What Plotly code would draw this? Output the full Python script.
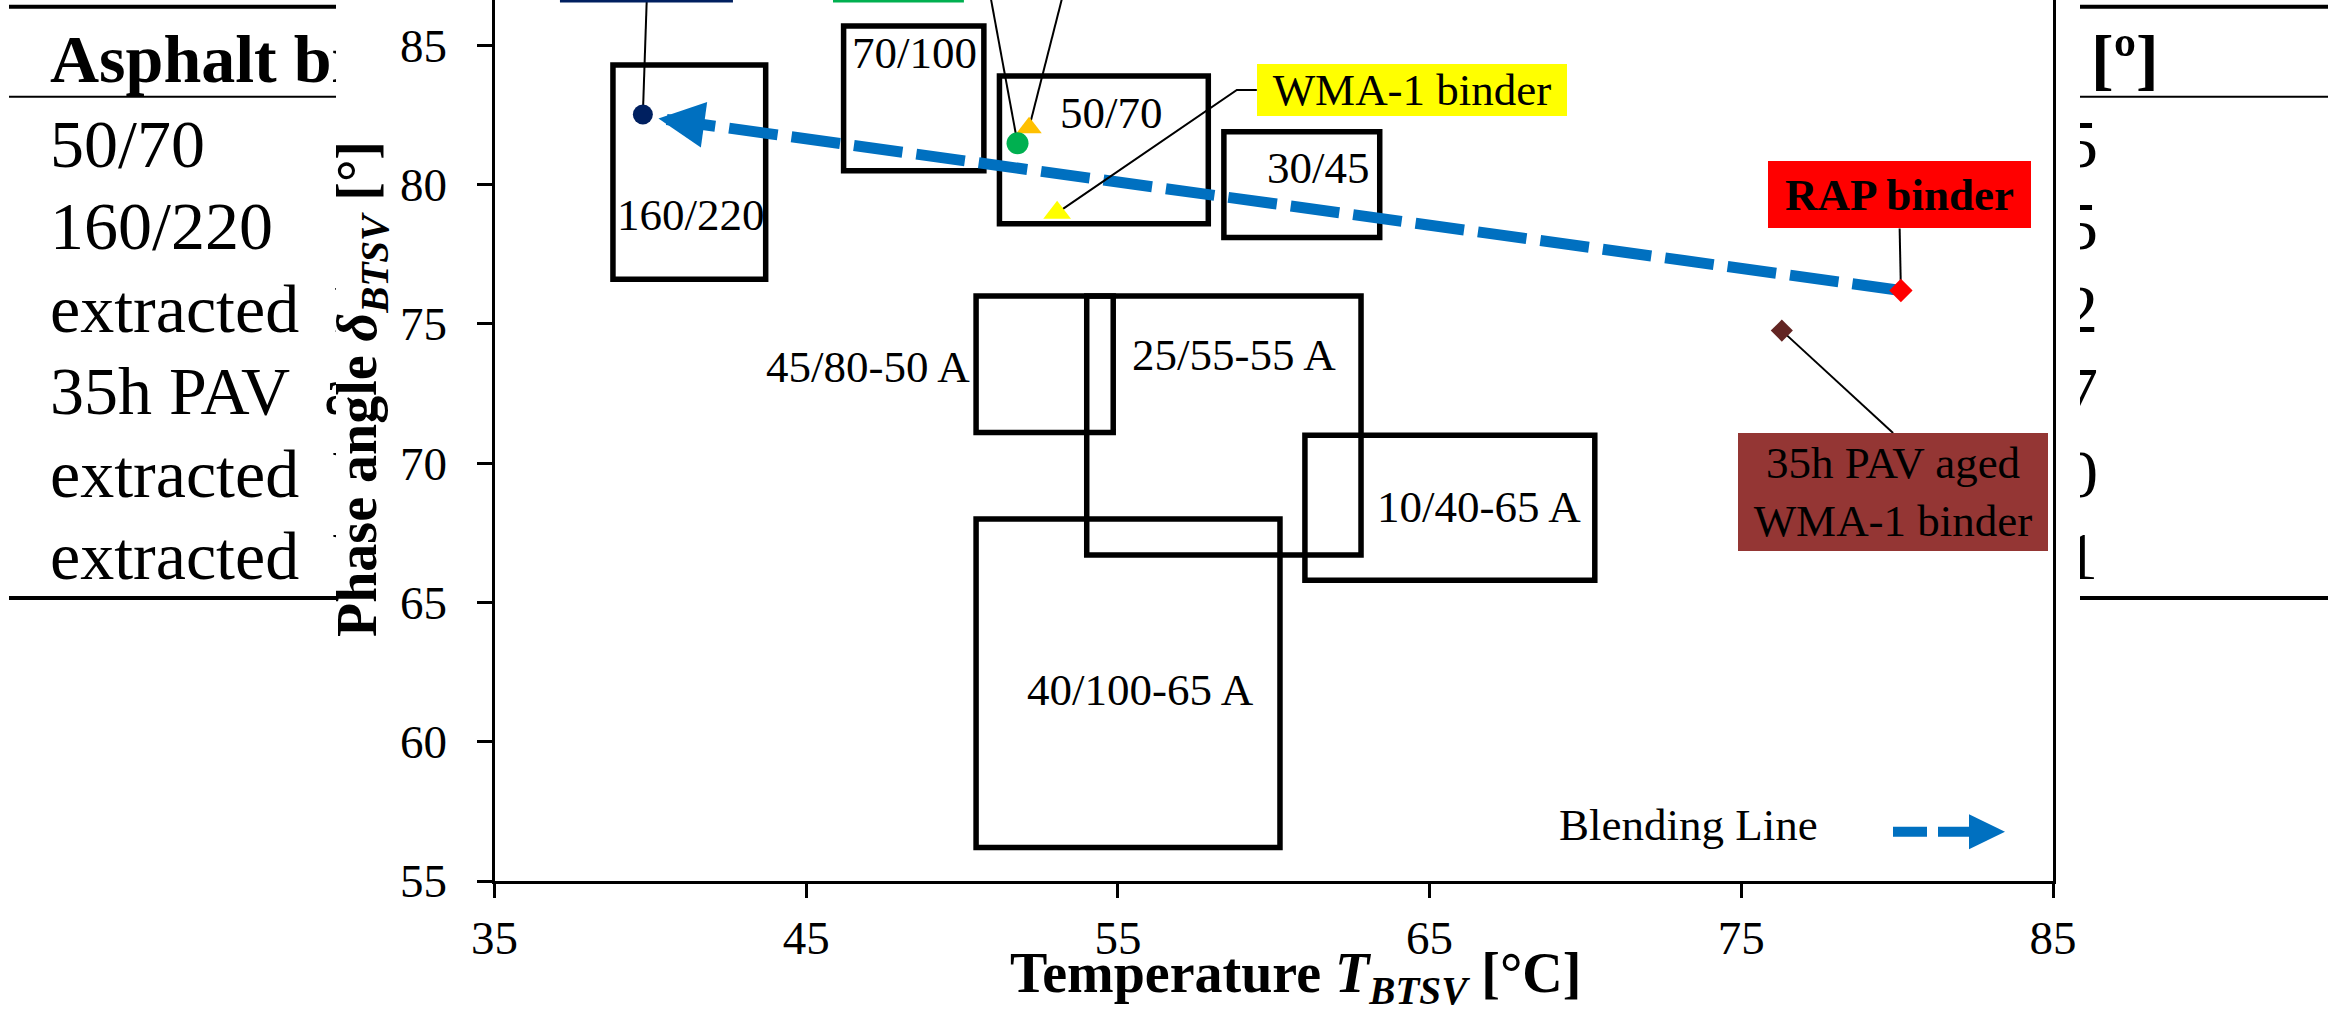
import math
import plotly.graph_objects as go

W, H = 2328, 1011
SERIF = "Liberation Serif"

# ----------------------------- data ---------------------------------
x_range = [35, 85]
y_range = [55, 86.63]
x_tickvals = [35, 45, 55, 65, 75, 85]
y_tickvals = [55, 60, 65, 70, 75, 80, 85]

# penetration-grade / PmB regions
box_labels = ["160/220", "70/100", "50/70", "30/45",
              "45/80-50 A", "25/55-55 A", "10/40-65 A", "40/100-65 A"]
box_x0 = [38.8, 46.2, 51.2, 58.4, 50.45, 54.0, 61.0, 50.45]
box_x1 = [43.7, 50.7, 57.9, 63.4, 54.85, 62.8, 70.3, 60.2]
box_y0 = [76.6, 80.5, 78.6, 78.1, 71.1, 66.7, 65.8, 56.2]
box_y1 = [84.3, 85.7, 83.9, 81.9, 76.0, 76.0, 71.0, 68.0]
box_label_x = [41.3, 48.46, 54.81, 61.44, 46.98, 58.72, 66.58, 55.73]
box_label_y = [78.9, 84.73, 82.59, 80.6, 73.47, 73.89, 68.44, 61.86]

# binders
pt_names = ["160/220 binder", "WMA-2 binder", "50/70 binder", "WMA-1 binder",
            "RAP binder", "35h PAV aged WMA-1 binder"]
pt_x = [39.76, 52.15, 51.78, 53.05, 80.12, 76.30]
pt_y = [82.52, 82.04, 81.49, 78.99, 76.20, 74.76]
pt_color = ["#002060", "#FFC000", "#00B050", "#FFFF00", "#FF0000", "#632523"]
pt_symbol = ["circle", "triangle-up", "circle", "triangle-up", "diamond", "diamond"]
pt_size = [20, 22, 22, 24, 18, 17]

# callouts whose boxes lie above the visible area (only leader + bottom edge visible)
offtop_idx = [0, 1, 2]
offtop_leader_x = [39.89, 53.24, 50.90]
strip_color = ["#002060", "#00B050"]
strip_x0 = [37.10, 45.86]
strip_x1 = [42.65, 50.06]
strip_bottom = 86.54

# visible callouts
callout_idx = [3, 4, 5]
callout_text = ["WMA-1 binder", "<b>RAP binder</b>", "35h PAV aged<br>WMA-1 binder"]
callout_x = [64.43, 80.08, 79.87]
callout_y = [83.40, 79.63, 68.97]
callout_bg = ["#FFFF00", "#FF0000", "#943634"]
callout_w = [310, 263, 310]
callout_h = [52, 67, 118]
callout_side = ["left", "bottom", "top"]

# blending line (RAP binder -> soft binder)
blend_x = [80.12, 40.26]
blend_y = [76.20, 82.38]
blend_label = "Blending Line"

# background table (partly hidden by the chart)
table_header = "Asphalt binder"
table_rows = ["50/70", "160/220", "extracted\u2002RAP binder",
              "35h PAV\u2002aged WMA-1 binder", "extracted\u2002WMA-1 binder",
              "extracted\u2002WMA-2 binder"]
table_right_header = "[º]"
table_right_vals = ["5", "5", "2", "7", "0", "1"]

# ----------------------------- layout geometry ----------------------
PL, PR, PT, PB = 494.5, 2053.0, 0.0, 881.0
kx = (PR - PL) / (x_range[1] - x_range[0])
ky = (PB - PT) / (y_range[1] - y_range[0])


def fx(p):
    return p / W


def fy(p):
    return 1 - p / H


BLUE = "#0070C0"
fig = go.Figure()

# blending line
fig.add_trace(go.Scatter(x=blend_x, y=blend_y, mode="lines",
                         line=dict(color=BLUE, width=11, dash="49px,14px"),
                         hoverinfo="skip", showlegend=False))

# leader lines to off-top callouts
for i, lx in zip(offtop_idx, offtop_leader_x):
    fig.add_trace(go.Scatter(x=[pt_x[i], lx], y=[pt_y[i], y_range[1] + 0.2],
                             mode="lines", line=dict(color="black", width=2),
                             hoverinfo="skip", showlegend=False))

# leader lines to visible callouts
for j, i in enumerate(callout_idx):
    cx, cy = callout_x[j], callout_y[j]
    hw = callout_w[j] / 2 / kx
    hh = callout_h[j] / 2 / ky
    if callout_side[j] == "left":
        lx = [pt_x[i], cx - hw - 20 / kx, cx - hw]
        ly = [pt_y[i], cy, cy]
    elif callout_side[j] == "bottom":
        lx = [pt_x[i], cx]
        ly = [pt_y[i], cy - hh]
    else:
        lx = [pt_x[i], cx]
        ly = [pt_y[i], cy + hh]
    fig.add_trace(go.Scatter(x=lx, y=ly, mode="lines",
                             line=dict(color="black", width=2),
                             hoverinfo="skip", showlegend=False))

# binder markers
fig.add_trace(go.Scatter(x=pt_x, y=pt_y, mode="markers", text=pt_names,
                         marker=dict(color=pt_color, symbol=pt_symbol, size=pt_size,
                                     opacity=1, line=dict(width=0)),
                         hoverinfo="text", showlegend=False))

# table text (clipped by their own subplot areas)
TFS = 68
header_base = 82
row_base0, row_step = 166.5, 82.5
row_ys = [row_base0 + k * row_step - 0.25 * TFS for k in range(len(table_rows))]
fig.add_trace(go.Scatter(x=[50] * (len(table_rows) + 1),
                         y=[header_base - 0.25 * TFS] + row_ys,
                         text=["<b>" + table_header + "</b>"] + table_rows,
                         mode="text", textposition="middle right",
                         textfont=dict(family=SERIF, size=TFS, color="black"),
                         xaxis="x2", yaxis="y2", hoverinfo="skip", showlegend=False))
fig.add_trace(go.Scatter(x=[2091], y=[header_base - 0.25 * TFS],
                         text=["<b>" + table_right_header + "</b>"],
                         mode="text", textposition="middle right",
                         textfont=dict(family=SERIF, size=TFS, color="black"),
                         xaxis="x3", yaxis="y3", hoverinfo="skip", showlegend=False))
fig.add_trace(go.Scatter(x=[2098] * len(table_right_vals), y=row_ys,
                         text=table_right_vals,
                         mode="text", textposition="middle left",
                         textfont=dict(family=SERIF, size=TFS, color="black"),
                         xaxis="x3", yaxis="y3", hoverinfo="skip", showlegend=False))

shapes = []
# grade boxes
for x0, x1, y0, y1 in zip(box_x0, box_x1, box_y0, box_y1):
    shapes.append(dict(type="rect", xref="x", yref="y", x0=x0, x1=x1, y0=y0, y1=y1,
                       line=dict(color="black", width=5.5), fillcolor="rgba(0,0,0,0)",
                       layer="below"))
# bottom edges of off-top callout boxes
for c, x0, x1 in zip(strip_color, strip_x0, strip_x1):
    shapes.append(dict(type="rect", xref="x", yref="y", x0=x0, x1=x1,
                       y0=strip_bottom, y1=y_range[1] + 1,
                       line=dict(width=0), fillcolor=c, layer="above"))
# table rules
for yy, lw in [(6.7, 4), (96.7, 2), (598, 4)]:
    for xa, xb in [(9, 336), (2080, W)]:
        shapes.append(dict(type="line", xref="paper", yref="paper",
                           x0=fx(xa), x1=fx(xb), y0=fy(yy), y1=fy(yy),
                           line=dict(color="black", width=lw)))
# legend sample (dashed arrow)
LEG_Y = 831.7
shapes.append(dict(type="line", xref="paper", yref="paper",
                   x0=fx(1893), x1=fx(1972), y0=fy(LEG_Y), y1=fy(LEG_Y),
                   line=dict(color=BLUE, width=10, dash="34px,11px")))
shapes.append(dict(type="path", xref="paper", yref="paper",
                   path="M{},{} L{},{} L{},{} Z".format(
                       fx(1969), fy(LEG_Y - 17.5), fx(2005), fy(LEG_Y),
                       fx(1969), fy(LEG_Y + 17.5)),
                   fillcolor=BLUE, line=dict(width=0)))

annotations = []
# box labels
for t, x, y in zip(box_labels, box_label_x, box_label_y):
    annotations.append(dict(x=x, y=y, xref="x", yref="y", text=t, showarrow=False,
                            xanchor="center", yanchor="middle",
                            font=dict(family=SERIF, size=45, color="black")))
# callout boxes
for j in range(len(callout_text)):
    annotations.append(dict(x=callout_x[j], y=callout_y[j], xref="x", yref="y",
                            text=callout_text[j], showarrow=False,
                            xanchor="center", yanchor="middle",
                            width=callout_w[j], height=callout_h[j],
                            bgcolor=callout_bg[j], borderpad=0, borderwidth=0,
                            font=dict(family=SERIF, size=45, color="black")))
# arrow head of the blending line
dxp = (blend_x[0] - blend_x[1]) * kx
dyp = -(blend_y[0] - blend_y[1]) * ky
L = math.hypot(dxp, dyp)
TAIL = 38
annotations.append(dict(x=blend_x[1], y=blend_y[1], xref="x", yref="y",
                        ax=dxp / L * TAIL, ay=dyp / L * TAIL, text="",
                        showarrow=True, arrowhead=2, arrowsize=4.6, arrowwidth=2,
                        arrowcolor=BLUE, standoff=0))
# legend text
annotations.append(dict(x=fx(1557), y=fy(825), xref="paper", yref="paper",
                        text=blend_label, showarrow=False, xanchor="left",
                        yanchor="middle",
                        font=dict(family=SERIF, size=45, color="black")))
# axis titles
annotations.append(dict(x=fx(1295), y=fy(977), xref="paper", yref="paper",
                        text="<b>Temperature <i>T<sub>BTSV</sub></i> [°C]</b>",
                        showarrow=False, xanchor="center", yanchor="middle",
                        font=dict(family=SERIF, size=56, color="black")))
annotations.append(dict(x=fx(361), y=fy(389), xref="paper", yref="paper",
                        text="<b>Phase angle <i>δ<sub>BTSV</sub></i> [°]</b>",
                        showarrow=False, xanchor="center", yanchor="middle",
                        textangle=-90,
                        font=dict(family=SERIF, size=56, color="black")))

axis_common = dict(showline=True, linecolor="black", linewidth=3, ticks="outside",
                   tickwidth=3, tickcolor="black", showgrid=False, zeroline=False,
                   automargin=False,
                   tickfont=dict(family=SERIF, size=47, color="black"))

fig.update_layout(
    width=W, height=H,
    margin=dict(l=0, r=0, t=0, b=0, pad=0, autoexpand=False),
    paper_bgcolor="white", plot_bgcolor="white", showlegend=False,
    xaxis=dict(domain=[fx(PL), fx(PR)], range=x_range, tickvals=x_tickvals,
               ticklen=14, ticklabelstandoff=0, anchor="y", **axis_common),
    yaxis=dict(domain=[fy(PB), 1], range=y_range, tickvals=y_tickvals,
               ticklen=15, ticklabelstandoff=20, mirror=True, anchor="x",
               **axis_common),
    xaxis2=dict(domain=[0, fx(336)], range=[0, 336], visible=False, anchor="y2"),
    yaxis2=dict(domain=[0, 1], range=[H, 0], visible=False, anchor="x2"),
    xaxis3=dict(domain=[fx(2080), 1], range=[2080, W], visible=False, anchor="y3"),
    yaxis3=dict(domain=[0, 1], range=[H, 0], visible=False, anchor="x3"),
    shapes=shapes, annotations=annotations,
)

fig.write_html("out.html")
